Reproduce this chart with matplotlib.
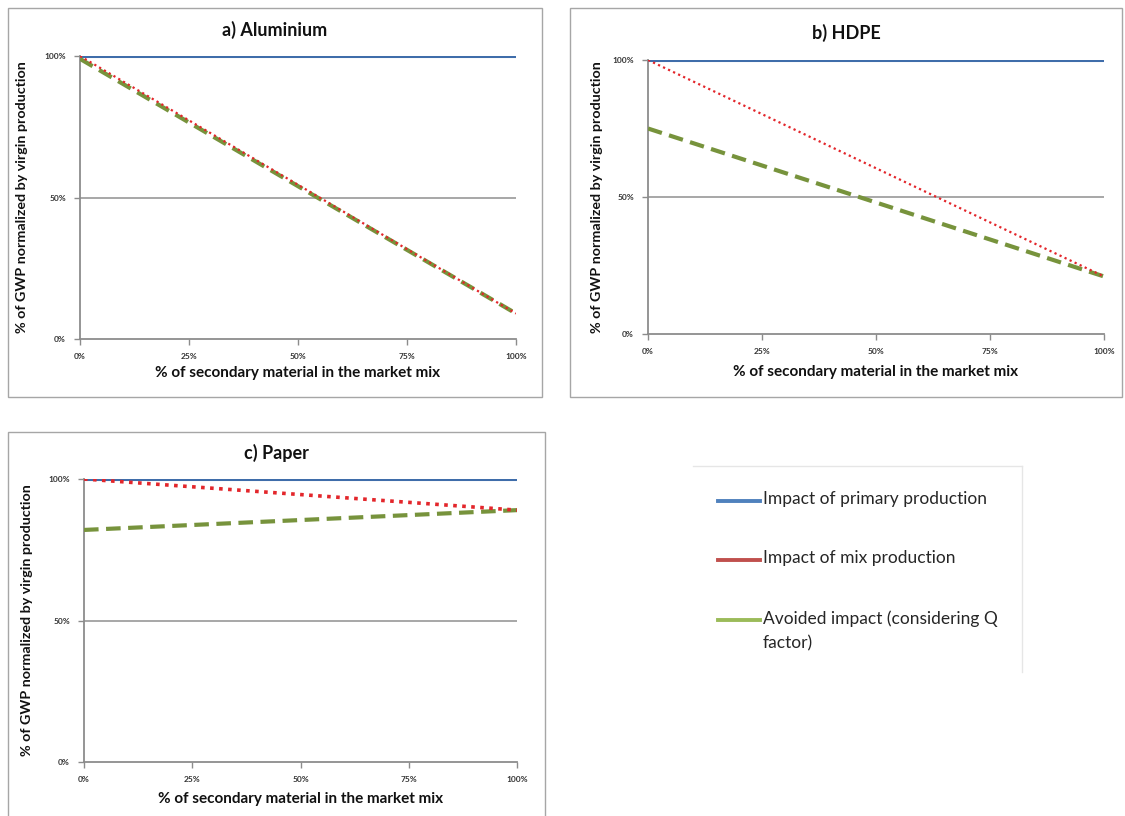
import matplotlib.pyplot as plt
from matplotlib.patches import Rectangle
from matplotlib.ticker import FixedLocator

plt.rcParams['font.family'] = ['Lato', 'DejaVu Sans']

W, H = 1125, 816

# data, x = share of secondary material in %
share = [0, 100]
primary = {'a': [100, 100], 'b': [100, 100], 'c': [100, 100]}
mix = {'a': [100, 9], 'b': [100, 21], 'c': [100, 89]}
avoided = {'a': [99, 9], 'b': [75, 21], 'c': [82, 89]}
titles = {'a': 'a) Aluminium', 'b': 'b) HDPE', 'c': 'c) Paper'}
tick_vals = [0, 25, 50, 75, 100]
tick_labels = ['0%', '25%', '50%', '75%', '100%']
y_ticks = [0, 50, 100]
y_labels = ['0%', '50%', '100%']
legend_labels = ['Impact of primary production', 'Impact of mix production',
                 'Avoided impact (considering Q\nfactor)']

blue = '#3F6DAA'
red = '#E3262B'
green = '#77933C'
leg_colors = ['#4F81BD', '#C0504D', '#9BBB59']
grey = '#8C8C8C'


def rect(x0, y0, x1, y1):
    return [x0 / W, 1 - y1 / H, (x1 - x0) / W, (y1 - y0) / H]


fig = plt.figure(figsize=(W / 100, H / 100), dpi=100)
fig.patch.set_facecolor('white')

# panel frames
frames = [(8, 8, 542, 397), (570, 8, 1122, 397), (8, 432, 545, 818)]
for x0, y0, x1, y1 in frames:
    fig.patches.append(Rectangle((x0 / W, 1 - y1 / H), (x1 - x0) / W, (y1 - y0) / H,
                                 transform=fig.transFigure, fill=False,
                                 edgecolor='#A6A6A6', linewidth=1.0))

# panel layout: axes box, frame, title y, ylabel x, xlabel y, red dot width
panels = {
    'a': dict(box=(80, 56, 516, 339), frame=frames[0], title_y=30, ylab_x=22,
              xlab_y=373, red_w=1.6),
    'b': dict(box=(648, 60, 1104, 334), frame=frames[1], title_y=33, ylab_x=597,
              xlab_y=372, red_w=1.6),
    'c': dict(box=(84, 479, 517, 762), frame=frames[2], title_y=453, ylab_x=27,
              xlab_y=799, red_w=2.6),
}

for key, p in panels.items():
    x0, y0, x1, y1 = p['box']
    ax = fig.add_axes(rect(x0, y0, x1, y1))
    ax.set_xlim(0, 100)
    ax.set_ylim(0, 100)
    ax.axhline(50, color='#A0A0A0', linewidth=1.3, zorder=1)
    ax.plot(share, primary[key], color=blue, linewidth=2.2, zorder=3,
            solid_capstyle='butt')
    ax.plot(share, avoided[key], color=green, linewidth=3.0, linestyle=(0, (3.5, 1.8)),
            zorder=4)
    ax.plot(share, mix[key], color=red, linewidth=p['red_w'],
            linestyle=(0, (1, 1.5)), zorder=5)

    for s in ['top', 'right']:
        ax.spines[s].set_visible(False)
    for s in ['left', 'bottom']:
        ax.spines[s].set_color(grey)
        ax.spines[s].set_linewidth(1.3)
    ax.xaxis.set_major_locator(FixedLocator(tick_vals))
    ax.set_xticklabels(tick_labels)
    ax.yaxis.set_major_locator(FixedLocator(y_ticks))
    ax.set_yticklabels(y_labels)
    ax.tick_params(length=4, width=1, color=grey, labelsize=6, pad=6,
                   labelcolor='#333333')
    for lbl in ax.get_xticklabels() + ax.get_yticklabels():
        lbl.set_fontweight('bold')

    fx0, _, fx1, _ = p['frame']
    fig.text((fx0 + fx1) / 2 / W, 1 - p['title_y'] / H, titles[key], ha='center',
             va='center', fontsize=13, fontweight='bold', color='#111111')
    fig.text((x0 + x1) / 2 / W, 1 - p['xlab_y'] / H,
             '% of secondary material in the market mix', ha='center', va='center',
             fontsize=11, fontweight='bold', color='#111111')
    fig.text(p['ylab_x'] / W, 1 - (y0 + y1) / 2 / H,
             '% of GWP normalized by virgin production', ha='center', va='center',
             rotation=90, fontsize=10.3, fontweight='bold', color='#111111')

# legend box
lx0, ly0, lx1, ly1 = 693, 466, 1022, 672
fig.add_artist(plt.Line2D([lx0 / W, lx1 / W], [1 - ly0 / H, 1 - ly0 / H],
                          transform=fig.transFigure, color='#E6E6E6', linewidth=1))
fig.add_artist(plt.Line2D([lx1 / W, lx1 / W], [1 - ly0 / H, 1 - ly1 / H],
                          transform=fig.transFigure, color='#E6E6E6', linewidth=1))
entry_y = [501, 560, 620]
for lab, col, ey in zip(legend_labels, leg_colors, entry_y):
    fig.add_artist(plt.Line2D([718 / W, 760 / W], [1 - ey / H, 1 - ey / H],
                              transform=fig.transFigure, color=col, linewidth=2.8))
    fig.text(763 / W, 1 - (ey - 10) / H, lab, ha='left', va='top', fontsize=12.5,
             color='#262626', linespacing=1.65)

fig.savefig('out.png', dpi=100, facecolor='white')
